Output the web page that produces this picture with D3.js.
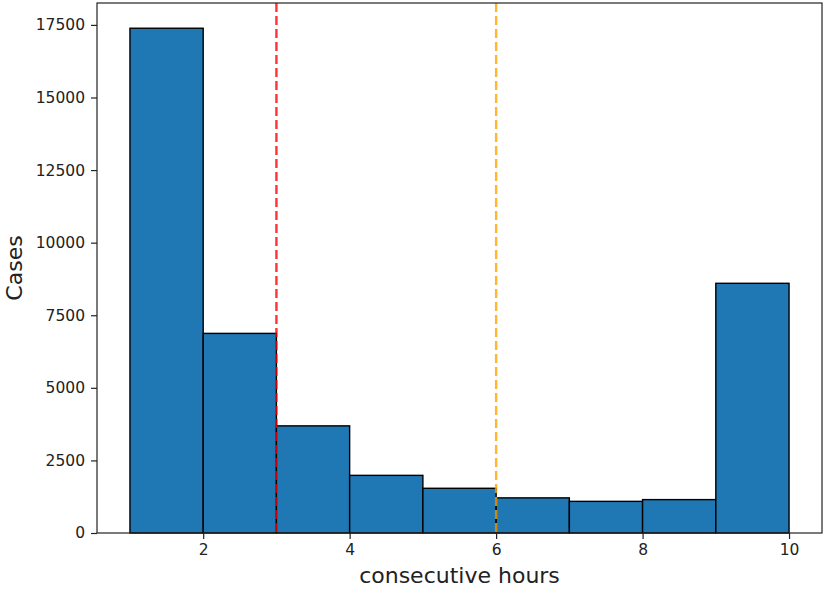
<!DOCTYPE html>
<html>
<head>
<meta charset="utf-8">
<script src="https://cdn.jsdelivr.net/npm/d3@7"></script>
<style>
  body { margin: 0; background: #fff; }
  text { font-family: "DejaVu Sans", sans-serif; fill: #222; }
</style>
</head>
<body>
<div id="chart"></div>
<script>
// histogram bins (hours) and counts
var binStarts = [1, 2, 3, 4, 5, 6, 7, 8, 9];
var binEnds   = [2, 3, 4, 5, 6, 7, 8, 9, 10];
var counts    = [17385, 6875, 3690, 1985, 1540, 1210, 1090, 1150, 8600];
var xTicks = [2, 4, 6, 8, 10];
var yTicks = [0, 2500, 5000, 7500, 10000, 12500, 15000, 17500];
var markerHours  = [3, 6];
var markerColors = ["rgba(255,0,0,0.8)", "rgba(255,165,0,0.8)"];

var W = 826, H = 590;
var margin = {top: 3, right: 4, bottom: 57, left: 97};
var width = W - margin.left - margin.right,
    height = H - margin.top - margin.bottom;

var svg = d3.select("#chart").append("svg")
    .attr("width", W).attr("height", H)
  .append("g")
    .attr("transform", "translate(" + margin.left + "," + margin.top + ")");

// matplotlib style 5% margins on x, top margin on y
var xMin = 1, xMax = 10, pad = (xMax - xMin) * 0.05;
var x = d3.scaleLinear().domain([xMin - pad, xMax + pad]).range([0, width]);
var y = d3.scaleLinear().domain([0, d3.max(counts) * 1.05]).range([height, 0]);

var bins = binStarts.map(function(d, i) { return {x0: d, x1: binEnds[i], n: counts[i]}; });

svg.selectAll("rect.bar")
  .data(bins)
  .join("rect")
    .attr("class", "bar")
    .attr("x", function(d) { return x(d.x0); })
    .attr("y", function(d) { return y(d.n); })
    .attr("width", function(d) { return x(d.x1) - x(d.x0); })
    .attr("height", function(d) { return y(0) - y(d.n); })
    .attr("fill", "#1f77b4")
    .attr("stroke", "#000")
    .attr("stroke-width", 1.4);

// dashed marker lines
svg.selectAll("line.marker")
  .data(markerHours)
  .join("line")
    .attr("class", "marker")
    .attr("x1", function(d) { return x(d); })
    .attr("x2", function(d) { return x(d); })
    .attr("y1", 0).attr("y2", height)
    .attr("stroke", function(d, i) { return markerColors[i]; })
    .attr("stroke-width", 2.4)
    .attr("stroke-dasharray", "9,4");

// axes
var xAxis = svg.append("g")
    .attr("transform", "translate(0," + height + ")")
    .call(d3.axisBottom(x).tickValues(xTicks).tickFormat(d3.format("d")).tickSize(6).tickPadding(5));
var yAxis = svg.append("g")
    .call(d3.axisLeft(y).tickValues(yTicks).tickFormat(d3.format("d")).tickSize(6).tickPadding(6));

[xAxis, yAxis].forEach(function(a) {
  a.attr("font-family", "DejaVu Sans").attr("font-size", 15.5);
  a.select(".domain").remove();
  a.selectAll("line").attr("stroke", "#222").attr("stroke-width", 1.2);
  a.selectAll("text").style("font-size", "15.5px").attr("fill", "#222");
});

// frame
svg.append("rect")
    .attr("x", 0).attr("y", 0)
    .attr("width", width).attr("height", height)
    .attr("fill", "none")
    .attr("stroke", "#222")
    .attr("stroke-width", 1.2);

// labels
svg.append("text")
    .attr("x", width / 2)
    .attr("y", height + 50)
    .attr("text-anchor", "middle")
    .style("font-size", "22px")
    .text("consecutive hours");

svg.append("text")
    .attr("transform", "translate(" + (-75) + "," + (height / 2) + ")rotate(-90)")
    .attr("text-anchor", "middle")
    .style("font-size", "22px")
    .text("Cases");
</script>
</body>
</html>
